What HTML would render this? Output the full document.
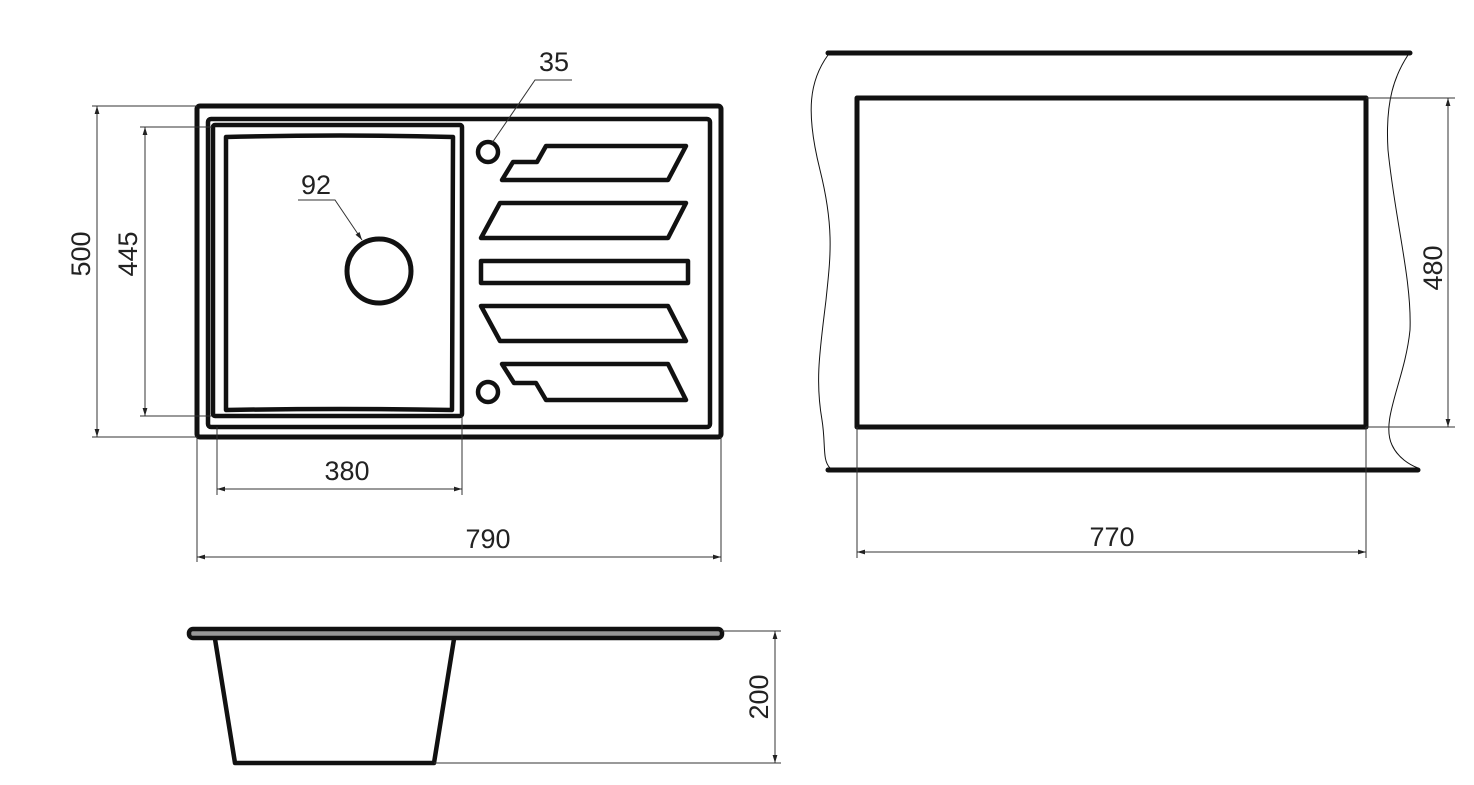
<!DOCTYPE html>
<html><head><meta charset="utf-8"><style>
html,body{margin:0;padding:0;background:#fff;}
svg{display:block;}
text{font-family:"Liberation Sans",sans-serif;font-size:27px;fill:#222;}
</style></head><body>
<svg width="1474" height="785" viewBox="0 0 1474 785" xmlns="http://www.w3.org/2000/svg">
<defs>
<marker id="a" viewBox="0 0 10 10" refX="10" refY="5" markerWidth="14" markerHeight="8" orient="auto-start-reverse" markerUnits="userSpaceOnUse">
<path d="M0,2 L10,5 L0,8 z" fill="#222"/></marker>
</defs>
<g fill="none" stroke="#111" stroke-linejoin="round">
<!-- top view sink -->
<rect x="197" y="106" width="524" height="331" rx="3" stroke-width="5"/>
<rect x="208" y="119" width="502" height="308" rx="3" stroke-width="4.5"/>
<rect x="213" y="125" width="249" height="291" rx="2" stroke-width="4.5"/>
<path d="M226,137 Q340,134 453,137 L452,410 Q340,408 226,410 Z" stroke-width="4.5"/>
<circle cx="379" cy="271" r="32" stroke-width="5"/>
<circle cx="488" cy="152" r="10" stroke-width="4.5"/>
<circle cx="488" cy="392" r="10" stroke-width="4.5"/>
<path d="M502,180 L513,162 L537,162 L546,146 L686,146 L668,180 Z" stroke-width="4.5"/>
<path d="M481,238 L500,203 L686,203 L668,238 Z" stroke-width="4.5"/>
<rect x="481" y="261" width="207" height="22" stroke-width="4.5"/>
<path d="M481,306 L668,306 L686,341 L500,341 Z" stroke-width="4.5"/>
<path d="M502,364 L668,364 L686,400 L546,400 L536,383 L514,383 Z" stroke-width="4.5"/>
<!-- right view -->
<line x1="828" y1="53" x2="1410" y2="53" stroke-width="5" stroke-linecap="round"/>
<line x1="828" y1="470" x2="1418" y2="470" stroke-width="5" stroke-linecap="round"/>
<rect x="857" y="98" width="509" height="329" stroke-width="5"/>
<path d="M828,55 C810,80 805,110 820,170 C835,230 830,260 826,300 C820,350 815,380 822,420 C826,445 822,460 830,468" stroke-width="1"/>
<path d="M1408,55 C1395,75 1385,100 1388,150 C1395,220 1412,280 1410,330 C1405,380 1380,420 1392,445 C1398,458 1410,465 1418,468" stroke-width="1"/>
<!-- side view -->
<rect x="189" y="629" width="533" height="9" rx="4" stroke-width="4.5" fill="#999"/>
<path d="M215,639 L235,763 L434,763 L454,639" stroke-width="4.5"/>
</g>
<g fill="none" stroke="#333" stroke-width="1">
<!-- 500 -->
<line x1="197" y1="106" x2="92" y2="106"/><line x1="197" y1="437" x2="92" y2="437"/>
<line x1="97" y1="106" x2="97" y2="437" marker-start="url(#a)" marker-end="url(#a)"/>
<!-- 445 -->
<line x1="212" y1="127" x2="140" y2="127"/><line x1="212" y1="416" x2="140" y2="416"/>
<line x1="145" y1="127" x2="145" y2="416" marker-start="url(#a)" marker-end="url(#a)"/>
<!-- 380 -->
<line x1="217" y1="427" x2="217" y2="495"/><line x1="462" y1="416" x2="462" y2="495"/>
<line x1="217" y1="489" x2="462" y2="489" marker-start="url(#a)" marker-end="url(#a)"/>
<!-- 790 -->
<line x1="197" y1="437" x2="197" y2="562"/><line x1="721" y1="437" x2="721" y2="562"/>
<line x1="197" y1="557" x2="721" y2="557" marker-start="url(#a)" marker-end="url(#a)"/>
<!-- 35 leader -->
<path d="M572,80 L535,80 L492,143"/>
<!-- 92 leader -->
<path d="M298,200 L335,200 L362,240" marker-end="url(#a)"/>
<!-- 480 -->
<line x1="1366" y1="98" x2="1455" y2="98"/><line x1="1366" y1="427" x2="1455" y2="427"/>
<line x1="1448" y1="98" x2="1448" y2="427" marker-start="url(#a)" marker-end="url(#a)"/>
<!-- 770 -->
<line x1="857" y1="427" x2="857" y2="558"/><line x1="1366" y1="427" x2="1366" y2="558"/>
<line x1="857" y1="552" x2="1366" y2="552" marker-start="url(#a)" marker-end="url(#a)"/>
<!-- 200 -->
<line x1="722" y1="631" x2="781" y2="631"/><line x1="434" y1="763" x2="781" y2="763"/>
<line x1="775" y1="631" x2="775" y2="763" marker-start="url(#a)" marker-end="url(#a)"/>
</g>
<text x="554" y="71" text-anchor="middle">35</text>
<text x="316" y="194" text-anchor="middle">92</text>
<text x="347" y="480" text-anchor="middle">380</text>
<text x="488" y="548" text-anchor="middle">790</text>
<text x="1112" y="546" text-anchor="middle">770</text>
<text transform="translate(90,254) rotate(-90)" text-anchor="middle">500</text>
<text transform="translate(137,254) rotate(-90)" text-anchor="middle">445</text>
<text transform="translate(1442,268) rotate(-90)" text-anchor="middle">480</text>
<text transform="translate(768,697) rotate(-90)" text-anchor="middle">200</text>
</svg>
</body></html>
